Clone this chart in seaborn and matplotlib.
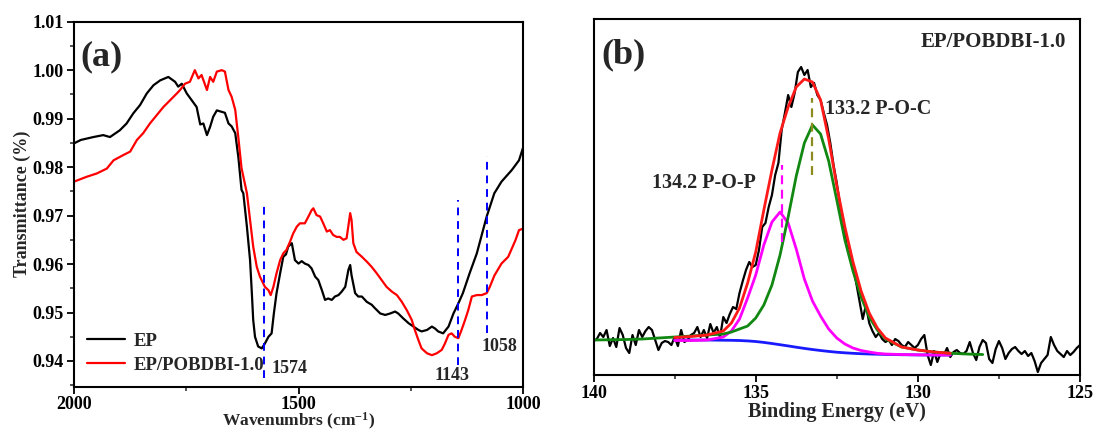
import numpy as np
import pandas as pd
import matplotlib
matplotlib.use("Agg")
import matplotlib.pyplot as plt
import seaborn as sns
from matplotlib.ticker import AutoMinorLocator, MultipleLocator

# ---------------- (a) FTIR spectra ----------------
ep_wn = [2000, 1985, 1957, 1935, 1920, 1898, 1883, 1868, 1853, 1838, 1823, 1808, 1790,
         1775, 1768, 1760, 1749, 1738, 1727, 1719, 1712, 1704, 1697, 1690, 1682, 1671,
         1664, 1656, 1649, 1641, 1634, 1627, 1623, 1615, 1608, 1604, 1601, 1597, 1590,
         1582, 1575, 1567, 1560, 1555, 1549, 1541, 1534, 1528, 1523, 1515, 1508, 1500,
         1493, 1486, 1478, 1471, 1463, 1456, 1448, 1441, 1434, 1426, 1419, 1411, 1404,
         1396, 1389, 1385, 1382, 1374, 1367, 1359, 1348, 1337, 1330, 1318, 1307, 1296,
         1285, 1278, 1267, 1255, 1244, 1233, 1226, 1214, 1203, 1196, 1189, 1178, 1166,
         1155, 1144, 1134, 1119, 1103, 1081, 1064, 1048, 1025, 1009, 1000]
ep_t = [0.9849, 0.9856, 0.9862, 0.9866, 0.9862, 0.9876, 0.9890, 0.9911, 0.9928, 0.9952,
        0.9969, 0.9979, 0.9986, 0.9976, 0.9966, 0.9972, 0.9952, 0.9938, 0.9924, 0.9888,
        0.9890, 0.9866, 0.9883, 0.9904, 0.9917, 0.9914, 0.9912, 0.9890, 0.9884, 0.9870,
        0.9820, 0.9753, 0.9746, 0.9677, 0.9608, 0.9540, 0.9485, 0.9450, 0.9430, 0.9426,
        0.9436, 0.9450, 0.9457, 0.9498, 0.9540, 0.9581, 0.9615, 0.9620, 0.9636, 0.9643,
        0.9608, 0.9601, 0.9606, 0.9601, 0.9598, 0.9591, 0.9574, 0.9567, 0.9546, 0.9526,
        0.9529, 0.9526, 0.9533, 0.9536, 0.9543, 0.9553, 0.9588, 0.9598, 0.9577, 0.9540,
        0.9533, 0.9533, 0.9522, 0.9516, 0.9509, 0.9498, 0.9495, 0.9498, 0.9502, 0.9498,
        0.9488, 0.9478, 0.9471, 0.9464, 0.9461, 0.9464, 0.9471, 0.9467, 0.9461, 0.9457,
        0.9471, 0.9498, 0.9519, 0.9540, 0.9581, 0.9622, 0.9698, 0.9746, 0.9770, 0.9794,
        0.9814, 0.9840]

pob_wn = [2000, 1972, 1949, 1927, 1912, 1890, 1875, 1860, 1846, 1831, 1816, 1801, 1786,
          1771, 1764, 1753, 1742, 1731, 1723, 1716, 1704, 1697, 1690, 1682, 1671, 1664,
          1656, 1649, 1641, 1634, 1627, 1615, 1608, 1601, 1593, 1586, 1575, 1567, 1562,
          1556, 1549, 1541, 1534, 1527, 1519, 1512, 1504, 1497, 1486, 1478, 1471, 1467,
          1460, 1452, 1445, 1437, 1430, 1423, 1415, 1408, 1400, 1393, 1385, 1382, 1378,
          1371, 1359, 1348, 1337, 1326, 1315, 1304, 1292, 1281, 1270, 1259, 1248, 1241,
          1233, 1226, 1214, 1203, 1192, 1181, 1174, 1166, 1159, 1152, 1144, 1137, 1129,
          1122, 1114, 1103, 1092, 1081, 1074, 1064, 1048, 1033, 1017, 1009, 1000]
pob_t = [0.9770, 0.9780, 0.9787, 0.9797, 0.9814, 0.9825, 0.9832, 0.9856, 0.9870, 0.9890,
         0.9907, 0.9924, 0.9938, 0.9952, 0.9959, 0.9972, 0.9976, 1.0000, 0.9983, 0.9990,
         0.9959, 0.9986, 0.9976, 0.9997, 1.0000, 0.9997, 0.9959, 0.9945, 0.9918, 0.9860,
         0.9798, 0.9746, 0.9691, 0.9636, 0.9594, 0.9574, 0.9553, 0.9546, 0.9536, 0.9553,
         0.9581, 0.9608, 0.9622, 0.9629, 0.9646, 0.9663, 0.9677, 0.9684, 0.9684, 0.9698,
         0.9711, 0.9715, 0.9701, 0.9698, 0.9684, 0.9667, 0.9670, 0.9660, 0.9656, 0.9656,
         0.9650, 0.9653, 0.9705, 0.9691, 0.9643, 0.9625, 0.9615, 0.9605, 0.9594, 0.9581,
         0.9567, 0.9553, 0.9543, 0.9536, 0.9522, 0.9505, 0.9485, 0.9464, 0.9443, 0.9426,
         0.9416, 0.9412, 0.9416, 0.9423, 0.9436, 0.9454, 0.9457, 0.9450, 0.9447, 0.9464,
         0.9485, 0.9505, 0.9533, 0.9536, 0.9536, 0.9540, 0.9553, 0.9576, 0.9601, 0.9615,
         0.9649, 0.9670, 0.9673]

# marker lines (position, bottom, top) and their labels
mark_wn = [1576, 1144, 1080]
mark_lo = [0.9364, 0.9392, 0.9457]
mark_hi = [0.9729, 0.9732, 0.9823]
mark_text = ["1574", "1143", "1058"]
mark_text_x = [1521, 1158, 1052]
mark_text_y = [0.9385, 0.9371, 0.9430]

# ---------------- (b) XPS P2p ----------------
be = np.linspace(140.0, 125.0, 151)
raw = [34, 36, 42, 38, 45, 29, 37, 28, 47, 40, 27, 22, 40, 30, 45, 38, 44, 48, 45, 35,
       25, 32, 34, 33, 30, 38, 29, 45, 33, 35, 40, 42, 48, 38, 45, 37, 51, 42, 48, 38,
       58, 52, 61, 68, 66, 82, 94, 105, 113, 108, 110, 125, 148, 152, 168, 180, 200, 212,
       245, 262, 280, 268, 282, 303, 308, 300, 305, 288, 292, 280, 275, 262, 250, 232,
       210, 192, 170, 155, 130, 126, 108, 92, 74, 56, 70, 52, 44, 38, 42, 36, 33,
       35, 30, 36, 34, 30, 28, 33, 30, 27, 30, 36, 40, 20, 10, 24, 13, 22, 20, 27, 18,
       23, 25, 22, 21, 24, 33, 22, 15, 28, 35, 32, 16, 12, 26, 34, 27, 16, 22, 26, 28,
       24, 21, 24, 19, 22, 14, 3, 12, 16, 20, 38, 30, 24, 21, 18, 24, 20, 23, 27, 30]

fit_be = [137.5, 137.0, 136.5, 136.0, 135.75, 135.5, 135.25, 135.0, 134.75, 134.5, 134.25,
          134.0, 133.75, 133.5, 133.25, 133.0, 132.75, 132.5, 132.25, 132.0, 131.75, 131.5,
          131.25, 131.0, 130.5, 130.0, 129.5, 129.0]
envelope = [37.5, 38.5, 40, 44, 52, 67, 92, 123, 165, 205, 242, 268, 288, 296, 293, 275,
            236, 189, 148, 113, 84, 62, 47, 37, 28, 25, 23, 21.8]
pop_peak = [34.5, 34.5, 35, 38, 44, 56, 77, 100, 130, 153, 163, 152, 126, 96, 74, 59, 46,
            37, 31, 27, 24.5, 23, 21.7, 21, 20.5, 20.2, 20, 20]
background = [35, 35, 35, 34.8, 34.7, 34.5, 34.1, 33.5, 32.6, 31.5, 30.3, 29.1, 27.8, 26.6,
              25.5, 24.5, 23.6, 22.8, 22.2, 21.7, 21.3, 21, 20.8, 20.6, 20.3, 20.1, 20, 20]
poc_be = [140.0, 139.0, 138.5, 138.0, 137.5, 137.0, 136.5, 136.0, 135.75, 135.5, 135.25,
          135.0, 134.75, 134.5, 134.25, 134.0, 133.75, 133.5, 133.25, 133.0, 132.75, 132.5,
          132.25, 132.0, 131.75, 131.5, 131.25, 131.0, 130.5, 130.0, 129.5, 129.0, 128.5, 128.0]
poc_peak = [35, 35.5, 36, 37, 38, 39, 40, 41, 43, 46, 49, 57, 70, 90, 120, 158, 199, 232,
            250, 241, 214, 175, 135, 104, 78, 58, 45, 36, 28, 25, 23, 21.8, 21, 20.5]

# dashed markers for peak positions (position, bottom, top)
xps_mark_be = [134.2, 133.25]
xps_mark_lo = [133, 200]
xps_mark_hi = [210, 277]
xps_mark_col = ["#ff00ff", "#8c8c1e"]

sns.set_style("ticks")
plt.rcParams["font.family"] = ["Liberation Serif", "DejaVu Serif"]
plt.rcParams["font.weight"] = "bold"
plt.rcParams["mathtext.fontset"] = "custom"
plt.rcParams["mathtext.rm"] = "Liberation Serif:bold"
plt.rcParams["mathtext.default"] = "rm"

fig = plt.figure(figsize=(10.97, 4.32), dpi=100)
ax1 = fig.add_axes([0.0675, 0.1049, 0.4093, 0.8449])
ax2 = fig.add_axes([0.5411, 0.1319, 0.4434, 0.8234])

df_ep = pd.DataFrame({"wn": ep_wn, "t": ep_t})
df_pob = pd.DataFrame({"wn": pob_wn, "t": pob_t})
sns.lineplot(data=df_ep, x="wn", y="t", color="black", lw=1.6, sort=False, ax=ax1, label="EP")
sns.lineplot(data=df_pob, x="wn", y="t", color="red", lw=1.6, sort=False, ax=ax1,
             label="EP/POBDBI-1.0")
for i in range(len(mark_wn)):
    ax1.plot([mark_wn[i], mark_wn[i]], [mark_lo[i], mark_hi[i]], color="blue",
             ls=(0, (4, 3)), lw=1.4)
    ax1.text(mark_text_x[i], mark_text_y[i], mark_text[i], fontsize=13, fontweight="bold",
             ha="center", va="center")
ax1.set_xlim(2000, 1000)
ax1.set_ylim(0.9347, 1.01)
ax1.xaxis.set_major_locator(MultipleLocator(500))
ax1.xaxis.set_minor_locator(AutoMinorLocator(2))
ax1.yaxis.set_major_locator(MultipleLocator(0.01))
ax1.yaxis.set_minor_locator(AutoMinorLocator(2))
ax1.set_xlabel("Wavenumbrs (cm$^{-1}$)", fontsize=12.5, fontweight="bold", labelpad=-1.5)
ax1.set_ylabel("Transmittance (%)", fontsize=13, fontweight="bold", labelpad=1)
ax1.text(0.015, 0.905, "(a)", transform=ax1.transAxes, fontsize=26, fontweight="bold",
         va="center")
ax1.legend(loc="lower left", frameon=False, fontsize=13.5, handlelength=2.0,
           borderaxespad=0.3, labelspacing=0.35, handletextpad=0.5)

sns.lineplot(x=be, y=raw, color="black", lw=1.6, sort=False, ax=ax2)
sns.lineplot(x=fit_be, y=background, color="#1a1aff", lw=2, sort=False, ax=ax2)
sns.lineplot(x=fit_be, y=pop_peak, color="#ff00ff", lw=2, sort=False, ax=ax2)
sns.lineplot(x=poc_be, y=poc_peak, color="#118811", lw=2, sort=False, ax=ax2)
sns.lineplot(x=fit_be, y=envelope, color="#ff1a1a", lw=2, sort=False, ax=ax2)
for i in range(len(xps_mark_be)):
    ax2.plot([xps_mark_be[i], xps_mark_be[i]], [xps_mark_lo[i], xps_mark_hi[i]],
             color=xps_mark_col[i], ls=(0, (4, 2.5)), lw=1.6)
ax2.text(136.6, 192, "134.2 P-O-P", fontsize=14.5, fontweight="bold", ha="center", va="center")
ax2.text(132.85, 266, "133.2 P-O-C", fontsize=14.5, fontweight="bold", ha="left", va="center")
ax2.text(0.972, 0.936, "EP/POBDBI-1.0", transform=ax2.transAxes, fontsize=15,
         fontweight="bold", ha="right", va="center")
ax2.text(0.015, 0.9, "(b)", transform=ax2.transAxes, fontsize=26, fontweight="bold",
         va="center")
ax2.set_xlim(140, 125)
ax2.set_ylim(0, 355.7)
ax2.xaxis.set_major_locator(MultipleLocator(5))
ax2.xaxis.set_minor_locator(AutoMinorLocator(2))
ax2.set_yticks([])
ax2.set_xlabel("Binding Energy (eV)", fontsize=14.5, fontweight="bold", labelpad=0)
ax2.set_ylabel("")

for ax in (ax1, ax2):
    for s in ax.spines.values():
        s.set_visible(True)
        s.set_linewidth(1.5)
        s.set_color("black")
    ax.tick_params(which="major", direction="out", length=5, width=1.3, labelsize=13,
                   colors="black", pad=2.5)
    ax.tick_params(which="minor", direction="out", length=3, width=1.1)
    for lab in ax.get_xticklabels() + ax.get_yticklabels():
        lab.set_fontweight("bold")
ax1.tick_params(axis="x", which="major", pad=1.5)

fig.savefig("out.png", dpi=100, facecolor="white")
